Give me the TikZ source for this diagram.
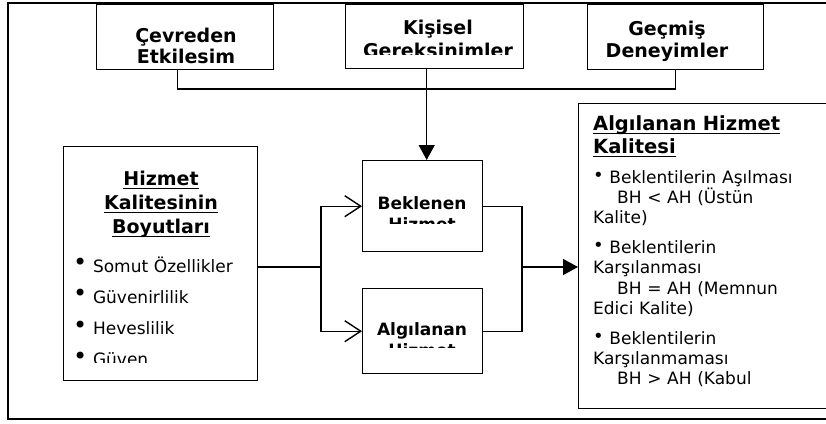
\documentclass[tikz,border=0pt]{standalone}
\usepackage{fontspec}
\setmainfont{DejaVu Sans}
\usetikzlibrary{arrows.meta}

\newcommand{\ulx}[1]{\leavevmode\setbox0\hbox{#1}\rlap{\vrule height -2.5pt depth 4pt width \wd0}\box0}
\newcommand{\bigblt}{\raisebox{1.5pt}{\fontsize{24}{24}\selectfont\textbullet}}
\newcommand{\smallblt}{\raisebox{1.5pt}{\fontsize{18}{18}\selectfont\textbullet}}

\begin{document}
\begin{tikzpicture}[
  x=1pt, y=-1pt,
  box/.style={
    draw=black,
    line width=1.4pt,
    inner sep=0pt,
    anchor=north west
  },
  head/.style={
    font=\fontsize{19}{21}\selectfont\bfseries,
    inner sep=0pt,
    anchor=base,
    align=center,
    text width=200pt
  },
  mid/.style={
    font=\fontsize{17}{21}\selectfont\bfseries,
    inner sep=0pt,
    anchor=base,
    align=center,
    text width=115pt
  },
  plain/.style={
    font=\fontsize{17}{20.3}\selectfont,
    inner sep=0pt,
    anchor=base west,
    align=left,
    text width=240pt
  },
  flow/.style={
    line width=1.4pt,
    draw=black
  },
  openflow/.style={
    flow,
    -{Straight Barb[length=16pt,width=21pt]}
  },
  fillflow/.style={
    flow,
    -{Triangle[length=15pt,width=16pt]}
  }
]
\useasboundingbox (0,0) rectangle (826,423);
\clip (0,0) rectangle (826,423);

% outer frame
\draw[line width=2.2pt] (8,3) rectangle (900,419);

% factor boxes on top
\node[box,minimum width=177pt,minimum height=65pt] (cev) at (96,4) {};
\node[box,minimum width=178pt,minimum height=64pt] (kis) at (345,4) {};
\node[box,minimum width=176pt,minimum height=65pt] (gec) at (587,4) {};

\begin{scope}
  \clip (96,4) rectangle (273,65);
  \node[head] (cevtxt) at (186,42) {Çevreden\\Etkilesim};
\end{scope}
\begin{scope}
  \clip (345,4) rectangle (523,54.5);
  \node[head,font=\fontsize{19}{23}\selectfont\bfseries] (kistxt) at (438,34) {Kişisel\\Gereksinimler};
\end{scope}
\begin{scope}
  \clip (587,4) rectangle (763,66);
  \node[head,font=\fontsize{19}{22}\selectfont\bfseries] (gectxt) at (667,35) {Geçmiş\\Deneyimler};
\end{scope}

% dimensions box
\node[box,minimum width=194pt,minimum height=234pt] (boyut) at (63,146) {};
\node[head,text width=190pt,font=\fontsize{19}{24}\selectfont\bfseries] (boyuttitle) at (161,185)
  {\ulx{Hizmet}\\\ulx{Kalitesinin}\\\ulx{Boyutları}};
\begin{scope}
  \clip (63,146) rectangle (257,362);
  \node[plain,text width=180pt,font=\fontsize{17}{31.3}\selectfont] (boyutlist) at (73,272)
    {\bigblt{} Somut Özellikler\\\bigblt{} Güvenirlilik\\\bigblt{} Heveslilik\\\bigblt{} Güven};
\end{scope}

% expected / perceived service
\node[box,minimum width=120pt,minimum height=91pt] (bek) at (362,160) {};
\node[box,minimum width=120pt,minimum height=85pt] (alg) at (362,288) {};
\begin{scope}
  \clip (362,160) rectangle (482,223);
  \node[mid] (bektxt) at (422,209) {Beklenen\\Hizmet};
\end{scope}
\begin{scope}
  \clip (362,288) rectangle (482,347);
  \node[mid] (algtxt) at (422,335) {Algılanan\\Hizmet};
\end{scope}

% perceived service quality
\node[box,minimum width=330pt,minimum height=305pt] (kalite) at (578,103) {};
\node[plain,font=\fontsize{19.5}{23}\selectfont\bfseries] (kalitetitle) at (593,130)
  {\ulx{Algılanan Hizmet}\\\ulx{Kalitesi}};
\node[plain] (kalitelist) at (593,183) {
  \smallblt{} Beklentilerin Aşılması\\
  \hspace*{24pt}BH < AH (Üstün\\
  Kalite)\\[9.5pt]
  \smallblt{} Beklentilerin\\
  Karşılanması\\
  \hspace*{24pt}BH = AH (Memnun\\
  Edici Kalite)\\[9.5pt]
  \smallblt{} Beklentilerin\\
  Karşılanmaması\\
  \hspace*{24pt}BH > AH (Kabul
};

% connectors
\coordinate (bus) at (0,89);
\draw[flow] ([xshift=-8pt]cev.south) |- (bus -| gec.south) -- (gec.south);
\draw[fillflow] ([xshift=-8pt]kis.south) -- ([xshift=-8pt]kis.south |- bek.north);

\coordinate (split) at (321,267);
\draw[flow] (boyut.east |- split) -- (split);
\draw[openflow] (split) |- (bek.west);
\draw[openflow] (split) |- (alg.west);

\coordinate (merge) at (522,267);
\draw[flow] (bek.east) -| (merge);
\draw[flow] (alg.east) -| (merge);
\draw[fillflow] (merge) -- (kalite.west |- merge);

\end{tikzpicture}
\end{document}
